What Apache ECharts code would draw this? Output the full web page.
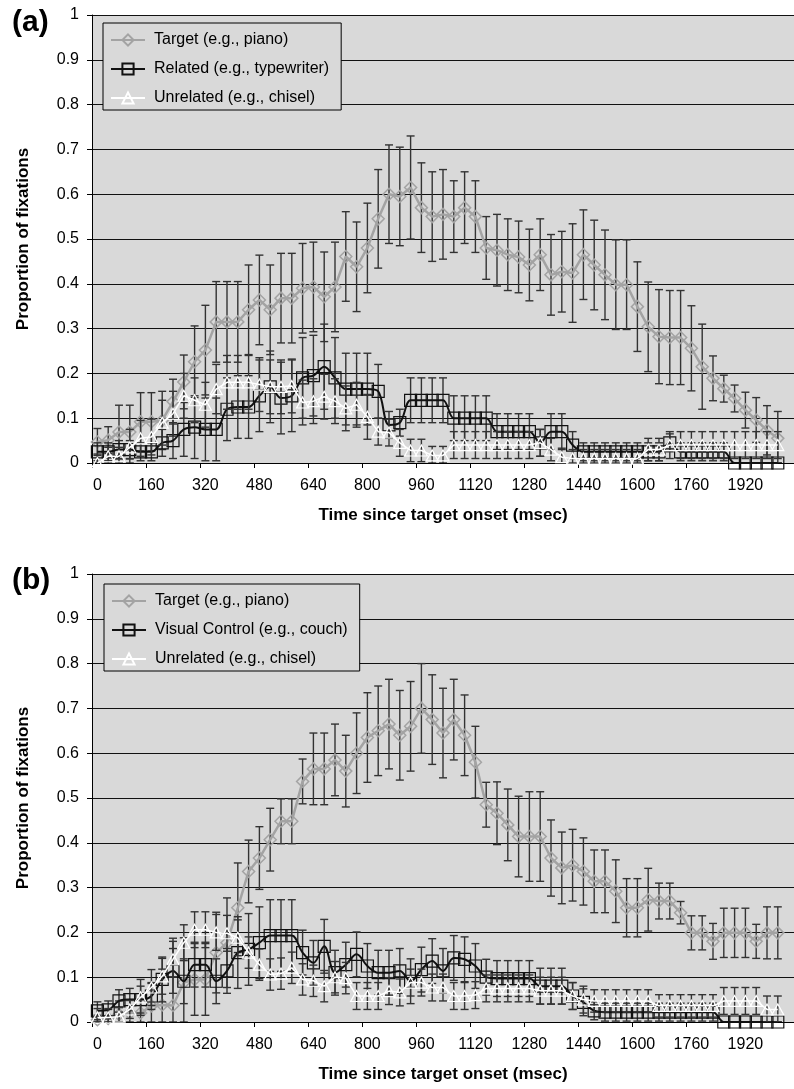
<!DOCTYPE html>
<html>
<head>
<meta charset="utf-8">
<script src="https://cdn.jsdelivr.net/npm/echarts@6/dist/echarts.min.js"></script>
<style>
html,body{margin:0;padding:0;background:#fff;overflow:hidden;}
#c{width:794px;height:1089px;}
</style>
</head>
<body>
<div id="c"></div>
<script>
// Time bins (msec)
const times = [0,32,64,96,128,160,192,224,256,288,320,352,384,416,448,480,512,544,576,608,640,672,704,736,768,800,832,864,896,928,960,992,1024,1056,1088,1120,1152,1184,1216,1248,1280,1312,1344,1376,1408,1440,1472,1504,1536,1568,1600,1632,1664,1696,1728,1760,1792,1824,1856,1888,1920,1952,1984,2016,2048];

// ---- Panel (a) ----
const targetA = [0.047,0.051,0.069,0.069,0.092,0.092,0.095,0.137,0.181,0.226,0.252,0.315,0.315,0.315,0.342,0.364,0.342,0.368,0.368,0.390,0.393,0.371,0.393,0.461,0.438,0.480,0.545,0.600,0.595,0.615,0.570,0.550,0.555,0.550,0.570,0.550,0.480,0.475,0.465,0.460,0.442,0.465,0.420,0.427,0.424,0.465,0.442,0.420,0.398,0.398,0.349,0.304,0.282,0.280,0.280,0.256,0.215,0.189,0.166,0.144,0.118,0.096,0.073,0.055];
const targetAErr = [0.03,0.03,0.06,0.06,0.065,0.065,0.065,0.05,0.06,0.08,0.10,0.09,0.09,0.09,0.10,0.10,0.10,0.10,0.10,0.10,0.10,0.10,0.10,0.10,0.10,0.10,0.11,0.11,0.11,0.115,0.10,0.10,0.10,0.08,0.08,0.08,0.07,0.08,0.08,0.08,0.08,0.08,0.09,0.09,0.11,0.10,0.10,0.10,0.10,0.10,0.10,0.10,0.105,0.105,0.105,0.095,0.095,0.05,0.03,0.03,0.04,0.05,0.055,0.06];
const relatedA = [0.025,0.025,0.030,0.030,0.025,0.025,0.045,0.050,0.075,0.080,0.075,0.075,0.120,0.125,0.125,0.150,0.170,0.145,0.150,0.190,0.195,0.215,0.190,0.165,0.165,0.165,0.160,0.085,0.090,0.140,0.140,0.140,0.140,0.100,0.100,0.100,0.100,0.070,0.070,0.070,0.070,0.045,0.070,0.070,0.040,0.025,0.025,0.025,0.025,0.025,0.025,0.025,0.025,0.045,0.025,0.025,0.025,0.025,0.025,0.000,0.000,0.000,0.000,0.000];
const relatedAErr = [0.02,0.02,0.02,0.02,0.02,0.02,0.03,0.04,0.06,0.07,0.07,0.07,0.07,0.07,0.07,0.08,0.08,0.08,0.08,0.09,0.09,0.095,0.09,0.08,0.08,0.08,0.06,0.03,0.03,0.05,0.05,0.05,0.05,0.05,0.05,0.05,0.05,0.04,0.04,0.04,0.04,0.03,0.04,0.04,0.03,0.02,0.02,0.02,0.02,0.02,0.02,0.02,0.02,0.02,0.02,0.02,0.02,0.02,0.02,0,0,0,0,0];
const unrelatedA = [0.000,0.015,0.015,0.035,0.055,0.058,0.090,0.110,0.150,0.140,0.130,0.165,0.180,0.180,0.180,0.175,0.170,0.170,0.172,0.135,0.138,0.148,0.138,0.122,0.130,0.103,0.070,0.068,0.045,0.028,0.028,0.017,0.017,0.040,0.040,0.040,0.040,0.040,0.040,0.040,0.040,0.045,0.030,0.013,0.010,0.010,0.010,0.010,0.010,0.010,0.010,0.030,0.030,0.040,0.040,0.040,0.040,0.040,0.040,0.040,0.040,0.040,0.040,0.040];
const unrelatedAErr = [0.02,0.02,0.02,0.04,0.04,0.04,0.05,0.05,0.05,0.05,0.05,0.055,0.06,0.06,0.06,0.06,0.06,0.06,0.06,0.05,0.05,0.05,0.05,0.05,0.05,0.05,0.03,0.03,0.03,0.025,0.025,0.02,0.02,0.03,0.03,0.03,0.03,0.03,0.03,0.03,0.03,0.03,0.025,0.02,0.02,0.02,0.02,0.02,0.02,0.02,0.02,0.025,0.025,0.03,0.03,0.03,0.03,0.03,0.03,0.03,0.03,0.03,0.03,0.03];

// ---- Panel (b) ----
const targetB = [0.005,0.008,0.017,0.020,0.020,0.036,0.038,0.037,0.088,0.095,0.095,0.155,0.177,0.255,0.336,0.366,0.407,0.448,0.448,0.537,0.565,0.565,0.585,0.560,0.600,0.635,0.650,0.665,0.640,0.660,0.700,0.675,0.645,0.675,0.640,0.580,0.485,0.466,0.440,0.414,0.414,0.414,0.366,0.344,0.350,0.336,0.314,0.314,0.292,0.255,0.255,0.273,0.270,0.270,0.244,0.199,0.199,0.180,0.199,0.199,0.199,0.180,0.199,0.199];
const targetBErr = [0.01,0.02,0.03,0.03,0.03,0.05,0.08,0.15,0.10,0.08,0.08,0.09,0.10,0.10,0.07,0.07,0.07,0.05,0.05,0.05,0.08,0.08,0.08,0.08,0.09,0.10,0.10,0.10,0.10,0.10,0.10,0.10,0.10,0.09,0.09,0.08,0.05,0.07,0.08,0.09,0.10,0.10,0.085,0.08,0.08,0.075,0.07,0.07,0.07,0.065,0.065,0.07,0.04,0.04,0.025,0.038,0.038,0.04,0.055,0.055,0.055,0.038,0.058,0.058];
const controlB = [0.025,0.027,0.047,0.050,0.050,0.058,0.095,0.114,0.091,0.128,0.128,0.091,0.114,0.155,0.162,0.177,0.193,0.193,0.193,0.155,0.132,0.169,0.110,0.128,0.151,0.125,0.110,0.110,0.114,0.091,0.117,0.136,0.114,0.143,0.140,0.125,0.100,0.097,0.097,0.097,0.097,0.080,0.080,0.080,0.058,0.044,0.025,0.022,0.022,0.022,0.022,0.022,0.022,0.022,0.022,0.022,0.022,0.022,0.000,0.000,0.000,0.000,0.000,0.000];
const controlBErr = [0.02,0.02,0.025,0.025,0.03,0.03,0.05,0.05,0.05,0.05,0.05,0.05,0.05,0.08,0.08,0.08,0.08,0.08,0.08,0.05,0.05,0.06,0.05,0.05,0.05,0.05,0.05,0.05,0.05,0.05,0.05,0.05,0.05,0.05,0.05,0.05,0.04,0.04,0.04,0.04,0.04,0.04,0.04,0.04,0.03,0.03,0.02,0.02,0.02,0.02,0.02,0.02,0.02,0.02,0.02,0.02,0.02,0.02,0,0,0,0,0,0];
const unrelatedB = [0.010,0.010,0.012,0.028,0.055,0.077,0.102,0.140,0.177,0.206,0.206,0.200,0.198,0.188,0.155,0.128,0.106,0.108,0.121,0.095,0.092,0.080,0.100,0.098,0.058,0.058,0.058,0.069,0.066,0.088,0.088,0.077,0.077,0.058,0.058,0.060,0.075,0.075,0.075,0.075,0.075,0.070,0.070,0.070,0.058,0.050,0.047,0.047,0.047,0.047,0.047,0.047,0.036,0.036,0.036,0.036,0.036,0.036,0.047,0.047,0.047,0.047,0.028,0.028];
const unrelatedBErr = [0.02,0.02,0.02,0.02,0.04,0.04,0.04,0.04,0.04,0.04,0.04,0.04,0.04,0.04,0.035,0.035,0.035,0.035,0.035,0.035,0.035,0.035,0.035,0.035,0.03,0.03,0.03,0.03,0.03,0.03,0.03,0.03,0.03,0.03,0.03,0.03,0.03,0.03,0.03,0.03,0.03,0.03,0.03,0.03,0.03,0.03,0.025,0.025,0.025,0.025,0.025,0.025,0.025,0.025,0.025,0.025,0.025,0.025,0.03,0.03,0.03,0.03,0.03,0.03];

const yTicks = ['0','0.1','0.2','0.3','0.4','0.5','0.6','0.7','0.8','0.9','1'];

const FONT = 'Liberation Sans, Arial, Helvetica, sans-serif';
const GRAY = '#a3a3a3', BLACK = '#111111', WHITE = '#ffffff', ERR = '#333333';

function errData(vals, errs) {
  return vals.map((v, i) => [i, Math.max(0, v - errs[i]), Math.min(1, v + errs[i])]);
}
function errRender(params, api) {
  const i = api.value(0);
  const top = api.coord([i, api.value(2)]);
  const bot = api.coord([i, api.value(1)]);
  const hw = 4;
  const st = {stroke: ERR, lineWidth: 1.4};
  return {type: 'group', children: [
    {type: 'line', shape: {x1: top[0], y1: top[1], x2: bot[0], y2: bot[1]}, style: st},
    {type: 'line', shape: {x1: top[0]-hw, y1: top[1], x2: top[0]+hw, y2: top[1]}, style: st},
    {type: 'line', shape: {x1: bot[0]-hw, y1: bot[1], x2: bot[0]+hw, y2: bot[1]}, style: st}
  ]};
}
function errSeries(idx, vals, errs, z) {
  return {type: 'custom', xAxisIndex: idx, yAxisIndex: idx, data: errData(vals, errs),
    renderItem: errRender, z: z, silent: true, clip: true};
}
function lineSeries(idx, name, vals, kind, z) {
  const s = {type: 'line', name: name, xAxisIndex: idx, yAxisIndex: idx, data: vals, z: z,
    silent: true, showSymbol: true, showAllSymbol: true};
  if (kind === 'target') {
    Object.assign(s, {color: GRAY, symbol: 'diamond', symbolSize: [12, 12],
      lineStyle: {color: GRAY, width: 2.5},
      itemStyle: {color: 'rgba(0,0,0,0)', borderColor: GRAY, borderWidth: 1.5}});
  } else if (kind === 'black') {
    Object.assign(s, {color: BLACK, symbol: 'rect', symbolSize: [12, 12], smooth: 0.35,
      lineStyle: {color: BLACK, width: 2},
      itemStyle: {color: 'rgba(0,0,0,0)', borderColor: BLACK, borderWidth: 1.2}});
  } else {
    Object.assign(s, {color: WHITE, symbol: 'triangle', symbolSize: [12, 11],
      lineStyle: {color: WHITE, width: 1.5},
      itemStyle: {color: 'rgba(0,0,0,0)', borderColor: WHITE, borderWidth: 1.2}});
  }
  return s;
}

const GRID_H = 448;
const grids = [
  {left: 92, top: 15, width: 708.5, height: GRID_H, show: true, backgroundColor: '#d9d9d9', borderWidth: 0},
  {left: 92, top: 574, width: 708.5, height: GRID_H, show: true, backgroundColor: '#d9d9d9', borderWidth: 0}
];
function xAxis(idx) {
  return {type: 'category', gridIndex: idx, data: times, boundaryGap: true,
    name: 'Time since target onset (msec)', nameLocation: 'middle', nameGap: 44,
    nameTextStyle: {fontFamily: FONT, fontSize: 17, fontWeight: 'bold', color: '#000'},
    axisLine: {lineStyle: {color: '#000', width: 1}},
    axisTick: {show: true, interval: 4, length: 5, lineStyle: {color: '#000'}},
    axisLabel: {interval: 4, margin: 15, fontFamily: FONT, fontSize: 16, color: '#000'},
    splitLine: {show: false}};
}
function yAxis(idx) {
  return {type: 'value', gridIndex: idx, min: 0, max: 1, interval: 0.1,
    name: 'Proportion of fixations', nameLocation: 'middle', nameGap: 60,
    nameTextStyle: {fontFamily: FONT, fontSize: 17, fontWeight: 'bold', color: '#000'},
    axisLine: {show: true, lineStyle: {color: '#000', width: 1}},
    axisTick: {show: true, length: 5, lineStyle: {color: '#000'}},
    axisLabel: {margin: 13, fontFamily: FONT, fontSize: 16, color: '#000',
      formatter: (v) => yTicks[Math.round(v * 10)]},
    splitLine: {show: true, lineStyle: {color: '#111', width: 1}}};
}
function legend(idx, names, left, top) {
  return {show: true, orient: 'vertical', left: left, top: top, data: names,
    backgroundColor: '#d9d9d9', borderColor: '#000', borderWidth: 1, borderRadius: 0,
    padding: [9, 12, 4, 7], itemGap: 13, itemWidth: 34, itemHeight: 14,
    selectedMode: false,
    textStyle: {fontFamily: FONT, fontSize: 16, color: '#000', padding: [0, 0, 0, 4]}};
}

const option = {
  animation: false,
  backgroundColor: '#fff',
  grid: grids,
  xAxis: [xAxis(0), xAxis(1)],
  yAxis: [yAxis(0), yAxis(1)],
  legend: [
    legend(0, ['Target (e.g., piano)', 'Related (e.g., typewriter)', 'Unrelated (e.g., chisel)'], 103, 23),
    legend(1, ['Target (e.g., piano)', 'Visual Control (e.g., couch)', 'Unrelated (e.g., chisel)'], 104, 584)
  ],
  graphic: [
    {type: 'text', left: 12, top: 8, style: {text: '(a)', font: 'bold 30px ' + FONT, fill: '#000'}},
    {type: 'text', left: 12, top: 566, style: {text: '(b)', font: 'bold 30px ' + FONT, fill: '#000'}}
  ],
  series: [
    errSeries(0, targetA, targetAErr, 2),
    lineSeries(0, 'Target (e.g., piano)', targetA, 'target', 3),
    errSeries(0, relatedA, relatedAErr, 4),
    lineSeries(0, 'Related (e.g., typewriter)', relatedA, 'black', 5),
    errSeries(0, unrelatedA, unrelatedAErr, 6),
    lineSeries(0, 'Unrelated (e.g., chisel)', unrelatedA, 'white', 7),
    errSeries(1, targetB, targetBErr, 2),
    lineSeries(1, 'Target (e.g., piano)', targetB, 'target', 3),
    errSeries(1, controlB, controlBErr, 4),
    lineSeries(1, 'Visual Control (e.g., couch)', controlB, 'black', 5),
    errSeries(1, unrelatedB, unrelatedBErr, 6),
    lineSeries(1, 'Unrelated (e.g., chisel)', unrelatedB, 'white', 7)
  ]
};
const chart = echarts.init(document.getElementById('c'), null, {renderer: 'canvas'});
chart.setOption(option);
</script>
</body>
</html>
